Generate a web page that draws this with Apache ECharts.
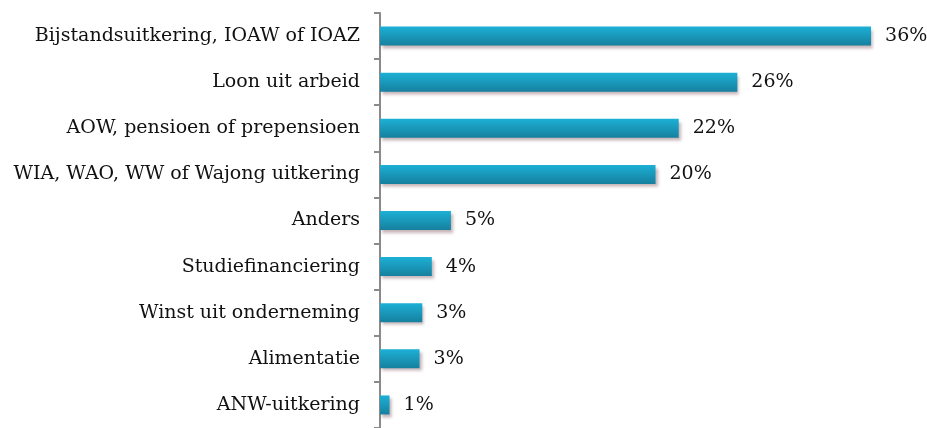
<!DOCTYPE html>
<html>
<head>
<meta charset="utf-8">
<script src="https://cdn.jsdelivr.net/npm/echarts@6/dist/echarts.min.js"></script>
<style>
  html, body { margin: 0; padding: 0; background: #fff; }
  #chart { width: 927px; height: 428px; }
</style>
</head>
<body>
<div id="chart"></div>
<script>
// categories, top to bottom
var categories = [
    'Bijstandsuitkering, IOAW of IOAZ',
    'Loon uit arbeid',
    'AOW, pensioen of prepensioen',
    'WIA, WAO, WW of Wajong uitkering',
    'Anders',
    'Studiefinanciering',
    'Winst uit onderneming',
    'Alimentatie',
    'ANW-uitkering'
];
// percentages
var shares = [36.0, 26.2, 21.9, 20.2, 5.2, 3.8, 3.1, 2.9, 0.7];

var fontFamily = '"DejaVu Serif", "Liberation Serif", serif';

var chart = echarts.init(document.getElementById('chart'));
chart.setOption({
    animation: false,
    grid: {
        left: 380,
        top: 13,
        width: 545.6,
        height: 417
    },
    xAxis: {
        type: 'value',
        min: 0,
        max: 40,
        show: false
    },
    yAxis: {
        type: 'category',
        inverse: true,
        data: categories,
        axisLine: {
            lineStyle: { color: '#8a8a8a', width: 2 }
        },
        axisTick: {
            show: true,
            length: 6,
            lineStyle: { color: '#8a8a8a', width: 2 }
        },
        axisLabel: {
            margin: 20,
            color: '#111',
            fontFamily: fontFamily,
            fontSize: 19
        }
    },
    series: [{
        type: 'bar',
        data: shares,
        barWidth: 19,
        itemStyle: {
            color: new echarts.graphic.LinearGradient(0, 0, 0, 1, [
                { offset: 0, color: '#1db0d6' },
                { offset: 1, color: '#16809e' }
            ]),
            shadowColor: 'rgba(90,40,50,0.35)',
            shadowBlur: 3,
            shadowOffsetX: 2,
            shadowOffsetY: 3
        },
        label: {
            show: true,
            position: 'right',
            distance: 14,
            color: '#111',
            fontFamily: fontFamily,
            fontSize: 19,
            formatter: function (p) {
                return Math.round(p.value) + '%';
            }
        }
    }]
});
</script>
</body>
</html>
